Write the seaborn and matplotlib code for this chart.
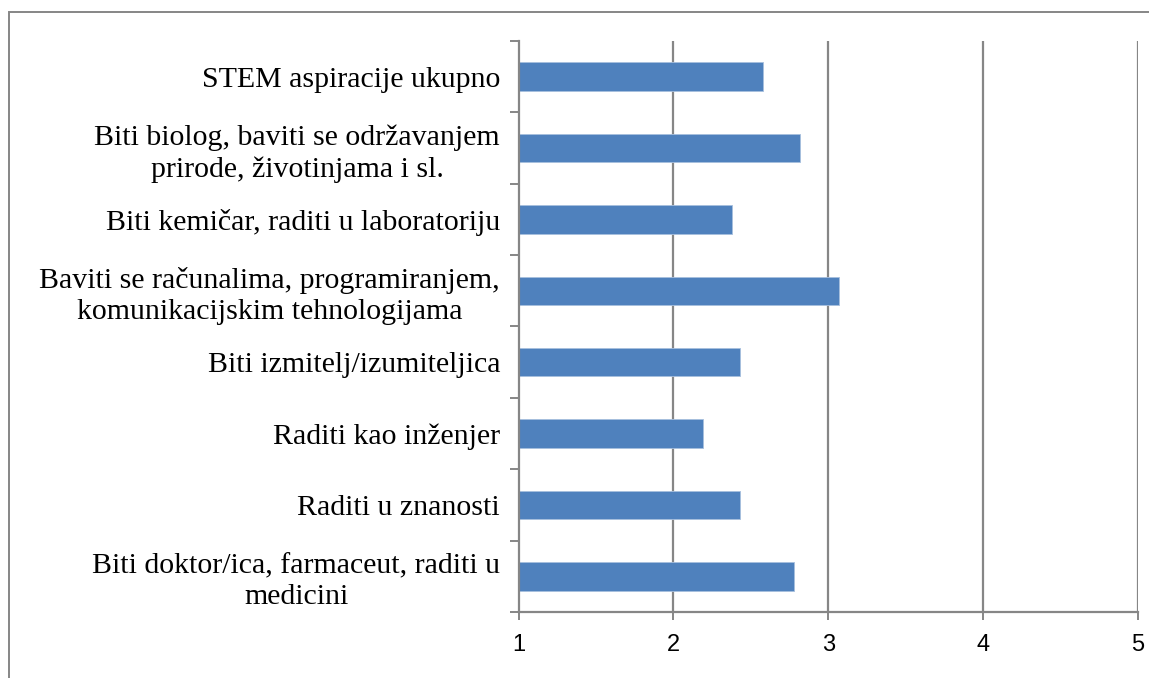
import matplotlib
matplotlib.use("Agg")
import matplotlib.pyplot as plt
from matplotlib.patches import Rectangle
import seaborn as sns
import numpy as np

# data (mean scores, scale 1-5)
categories = [
    "STEM aspiracije ukupno",
    "Biti biolog, baviti se održavanjem\nprirode, životinjama i sl.",
    "Biti kemičar, raditi u laboratoriju",
    "Baviti se računalima, programiranjem,\nkomunikacijskim tehnologijama",
    "Biti izmitelj/izumiteljica",
    "Raditi kao inženjer",
    "Raditi u znanosti",
    "Biti doktor/ica, farmaceut, raditi u\nmedicini",
]
values = [2.58, 2.82, 2.38, 3.07, 2.43, 2.19, 2.43, 2.78]
xticks = [1, 2, 3, 4, 5]

sns.set_style("white")
grey = "#868686"

fig = plt.figure(figsize=(11.49, 6.78), dpi=100)
ax = fig.add_axes([518.5 / 1149, 1 - 612 / 678, (1138 - 518.5) / 1149, (612 - 41) / 678])

sns.barplot(x=values, y=categories, orient="h", color="#4F81BD", width=0.4,
            saturation=1, edgecolor="#A7BFDE", linewidth=0.6, ax=ax)

ax.set_xlim(1, 5)
ax.set_ylim(len(categories) - 0.5, -0.5)
ax.set_xticks(xticks)
ax.set_xlabel("")
ax.set_ylabel("")

# vertical gridlines
for t in xticks[1:]:
    ax.axvline(t, color=grey, lw=1.6, zorder=0)

# y labels centered, ticks at category boundaries
ax.set_yticks(np.arange(-0.5, len(categories)), minor=True)
ax.tick_params(axis="both", which="both", left=True, bottom=True)
ax.tick_params(axis="y", which="major", length=0, pad=13.3)
ax.tick_params(axis="y", which="minor", length=6.5, width=1.4, color=grey, direction="out")
ax.tick_params(axis="x", which="major", length=5.5, width=1.4, color=grey, direction="out",
               pad=10.5, labelsize=17, labelcolor="black")
for lab in ax.get_xticklabels():
    lab.set_family("Liberation Sans")
for lab in ax.get_yticklabels():
    lab.set_family("Liberation Serif")
    lab.set_fontsize(21.5)
    lab.set_color("black")
    lab.set_multialignment("center")
    lab.set_linespacing(1.25)

for side in ["top", "right"]:
    ax.spines[side].set_visible(False)
for side in ["left", "bottom"]:
    ax.spines[side].set_color(grey)
    ax.spines[side].set_linewidth(1.6)

# outer chart frame
fig.patches.append(Rectangle((9 / 1149, -0.1), 2, 1 - 12 / 678 + 0.1, transform=fig.transFigure,
                             fill=False, edgecolor=grey, lw=1.4))

fig.savefig("out.png", dpi=100)
